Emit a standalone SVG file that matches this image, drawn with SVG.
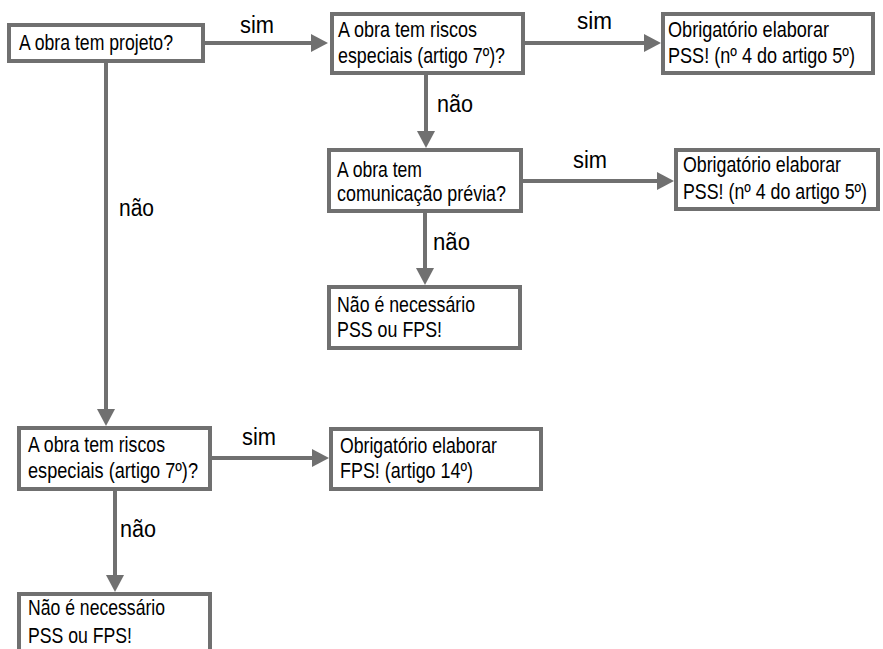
<svg xmlns="http://www.w3.org/2000/svg" width="883" height="649" viewBox="0 0 883 649">
  <style>
    .box { fill: #ffffff; stroke: #707070; stroke-width: 4; }
    .t { font-family: "Liberation Sans", Arial, sans-serif; font-size: 22px; fill: #000000; }
    .lbl { font-family: "Liberation Sans", Arial, sans-serif; font-size: 23px; fill: #000000; }
    .edge { fill: none; stroke: #707070; stroke-width: 4; marker-end: url(#arrow); }
  </style>
  <defs>
    <marker id="arrow" markerUnits="userSpaceOnUse" markerWidth="18" markerHeight="19" refX="7" refY="9" orient="auto">
      <path d="M0,0 L17,9 L0,18 Z" fill="#707070"/>
    </marker>
  </defs>

  <rect width="883" height="649" fill="#ffffff"/>

  <!-- connectors -->
  <g id="connectors">
    <path class="edge" d="M204,43 H318"/>
    <path class="edge" d="M525,43 H651"/>
    <path class="edge" d="M426,75 V138"/>
    <path class="edge" d="M523,181 H664"/>
    <path class="edge" d="M425,213 V275"/>
    <path class="edge" d="M106,63 V416"/>
    <path class="edge" d="M212,458 H319"/>
    <path class="edge" d="M115,491 V582"/>

    <text class="lbl" x="240" y="33" textLength="34" lengthAdjust="spacingAndGlyphs">sim</text>
    <text class="lbl" x="577" y="29" textLength="35" lengthAdjust="spacingAndGlyphs">sim</text>
    <text class="lbl" x="437" y="112" textLength="36" lengthAdjust="spacingAndGlyphs">não</text>
    <text class="lbl" x="573" y="168" textLength="34" lengthAdjust="spacingAndGlyphs">sim</text>
    <text class="lbl" x="433" y="250" textLength="37" lengthAdjust="spacingAndGlyphs">não</text>
    <text class="lbl" x="119" y="216" textLength="35" lengthAdjust="spacingAndGlyphs">não</text>
    <text class="lbl" x="242" y="445" textLength="34" lengthAdjust="spacingAndGlyphs">sim</text>
    <text class="lbl" x="120" y="537" textLength="36" lengthAdjust="spacingAndGlyphs">não</text>
  </g>

  <!-- nodes -->
  <g id="q-projeto">
    <rect class="box" x="9" y="25" width="194" height="36"/>
    <text class="t" x="19" y="50" textLength="154" lengthAdjust="spacingAndGlyphs">A obra tem projeto?</text>
  </g>

  <g id="q-riscos-1">
    <rect class="box" x="332" y="14" width="191" height="59"/>
    <text class="t" x="338" y="37" textLength="139" lengthAdjust="spacingAndGlyphs">A obra tem riscos</text>
    <text class="t" x="338" y="63" textLength="167" lengthAdjust="spacingAndGlyphs">especiais (artigo 7º)?</text>
  </g>

  <g id="pss-1">
    <rect class="box" x="663" y="14" width="210" height="59"/>
    <text class="t" x="668" y="37" textLength="161" lengthAdjust="spacingAndGlyphs">Obrigatório elaborar</text>
    <text class="t" x="668" y="63" textLength="187" lengthAdjust="spacingAndGlyphs">PSS! (nº 4 do artigo 5º)</text>
  </g>

  <g id="q-comunicacao">
    <rect class="box" x="329" y="150" width="192" height="61"/>
    <text class="t" x="337" y="177" textLength="85" lengthAdjust="spacingAndGlyphs">A obra tem</text>
    <text class="t" x="337" y="201" textLength="169" lengthAdjust="spacingAndGlyphs">comunicação prévia?</text>
  </g>

  <g id="pss-2">
    <rect class="box" x="676" y="150" width="202" height="59"/>
    <text class="t" x="683" y="172" textLength="158" lengthAdjust="spacingAndGlyphs">Obrigatório elaborar</text>
    <text class="t" x="683" y="199" textLength="184" lengthAdjust="spacingAndGlyphs">PSS! (nº 4 do artigo 5º)</text>
  </g>

  <g id="nada-1">
    <rect class="box" x="329" y="287" width="191" height="61"/>
    <text class="t" x="337" y="312" textLength="138" lengthAdjust="spacingAndGlyphs">Não é necessário</text>
    <text class="t" x="337" y="337" textLength="105" lengthAdjust="spacingAndGlyphs">PSS ou FPS!</text>
  </g>

  <g id="q-riscos-2">
    <rect class="box" x="19" y="428" width="191" height="61"/>
    <text class="t" x="28" y="452" textLength="137" lengthAdjust="spacingAndGlyphs">A obra tem riscos</text>
    <text class="t" x="28" y="478" textLength="170" lengthAdjust="spacingAndGlyphs">especiais (artigo 7º)?</text>
  </g>

  <g id="fps">
    <rect class="box" x="331" y="429" width="210" height="60"/>
    <text class="t" x="340" y="453" textLength="157" lengthAdjust="spacingAndGlyphs">Obrigatório elaborar</text>
    <text class="t" x="340" y="478" textLength="133" lengthAdjust="spacingAndGlyphs">FPS! (artigo 14º)</text>
  </g>

  <g id="nada-2">
    <rect class="box" x="19" y="594" width="191" height="70"/>
    <text class="t" x="28" y="615" textLength="137" lengthAdjust="spacingAndGlyphs">Não é necessário</text>
    <text class="t" x="28" y="643" textLength="104" lengthAdjust="spacingAndGlyphs">PSS ou FPS!</text>
  </g>
</svg>
